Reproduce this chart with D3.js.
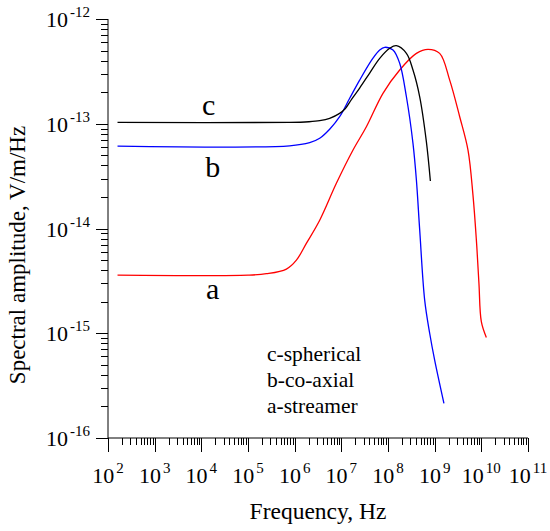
<!DOCTYPE html>
<html>
<head>
<meta charset="utf-8">
<script src="https://cdn.jsdelivr.net/npm/d3@7"></script>
<style>
  html, body { margin: 0; padding: 0; background: #fff; }
  svg { display: block; }
  text { font-family: 'Liberation Serif', 'DejaVu Serif', serif; fill: #000; }
</style>
</head>
<body>
<svg></svg>
<script>
const w = 550
const h = 531

// curve c - spherical (black)
const freqC = [160, 7.8e5, 2.0e6, 3.44e6, 5.62e6, 9.2e6, 1.18e7, 1.67e7, 2.47e7, 4.05e7, 6.64e7, 1.09e8, 1.51e8, 2.48e8, 3.43e8, 4.78e8, 6.64e8, 8.09e8]
const ampC = [1.03e-13, 1.03e-13, 1.045e-13, 1.07e-13, 1.127e-13, 1.256e-13, 1.374e-13, 1.72e-13, 2.19e-13, 3.05e-13, 4.21e-13, 5.25e-13, 5.56e-13, 4.70e-13, 3.26e-13, 1.81e-13, 6.76e-14, 2.84e-14]

// curve b - co-axial (blue)
const freqB = [160, 7.8e5, 2.10e6, 3.44e6, 5.62e6, 9.2e6, 1.51e7, 2.47e7, 4.76e7, 6.64e7, 8.49e7, 1.28e8, 1.78e8, 2.48e8, 3.43e8, 4.06e8, 4.78e8, 6.11e8, 7.82e8, 1.0e9, 1.58e9]
const ampB = [6.12e-14, 6.15e-14, 6.59e-14, 7.26e-14, 8.85e-14, 1.167e-13, 1.75e-13, 2.61e-13, 4.22e-13, 5.06e-13, 5.37e-13, 5.06e-13, 3.78e-13, 1.81e-13, 6.50e-14, 2.90e-14, 9.66e-15, 2.07e-15, 1.00e-15, 5.53e-16, 2.14e-16]

// curve a - streamer (red)
const freqA = [160, 1.0e5, 2.48e5, 6.65e5, 1.09e6, 1.78e6, 3.44e6, 7.83e6, 1.78e7, 3.44e7, 7.80e7, 1.78e8, 4.06e8, 7.19e8, 1.28e9, 2.10e9, 3.44e9, 5.18e9, 6.62e9, 7.83e9, 8.89e9, 1.00e10, 1.28e10]
const ampA = [3.59e-15, 3.59e-15, 3.70e-15, 4.10e-15, 4.99e-15, 7.21e-15, 1.20e-14, 2.70e-14, 5.61e-14, 9.35e-14, 1.95e-13, 3.26e-13, 4.70e-13, 5.14e-13, 4.70e-13, 2.61e-13, 1.167e-13, 5.61e-14, 2.08e-14, 7.75e-15, 2.99e-15, 1.29e-15, 9.12e-16]

const xExp = [2, 3, 4, 5, 6, 7, 8, 9, 10, 11]
const yExp = [-16, -15, -14, -13, -12]
const legendLines = ['c-spherical', 'b-co-axial', 'a-streamer']

const svg = d3.select('svg')
  .attr('width', w)
  .attr('height', h)
  .attr('viewBox', `0 0 ${w} ${h}`);

const margin = {top: 19, right: 22, bottom: 93, left: 108};
const innerWidth = w - margin.left - margin.right;
const innerHeight = h - margin.top - margin.bottom;

const xScale = d3.scaleLog()
  .domain([1e2, 1e11])
  .range([0, innerWidth]);

const yScale = d3.scaleLog()
  .domain([1e-16, 1e-12])
  .range([innerHeight, 0]);

const g = svg.append('g')
  .attr('transform', `translate(${margin.left}, ${margin.top})`);

// log ticks: 1..9 in each decade, major on the powers of ten
const logTicks = (lo, hi) => {
  const out = [];
  for (let e = lo; e < hi; e++)
    for (let k = 1; k <= 9; k++) out.push({v: k * Math.pow(10, e), major: k === 1});
  out.push({v: Math.pow(10, hi), major: true});
  return out;
}

// x axis
const xAxisG = g.append('g')
  .attr('transform', `translate(0, ${innerHeight})`);

xAxisG.append('line')
  .attr('x1', 0).attr('x2', innerWidth)
  .attr('stroke', '#000');

xAxisG.selectAll('.xtick').data(logTicks(2, 11))
  .enter().append('line')
    .attr('class', 'xtick')
    .attr('x1', d => Math.round(xScale(d.v)) + 0.5)
    .attr('x2', d => Math.round(xScale(d.v)) + 0.5)
    .attr('y1', 0)
    .attr('y2', d => d.major ? 14 : 7)
    .attr('stroke', '#000');

const xLab = xAxisG.selectAll('.xlab').data(xExp)
  .enter().append('text')
    .attr('class', 'xlab')
    .attr('x', d => xScale(Math.pow(10, d)))
    .attr('y', 45)
    .attr('text-anchor', 'middle')
    .attr('font-size', 22);
xLab.append('tspan').text('10');
xLab.append('tspan').attr('dx', 2).attr('dy', -10).attr('font-size', 15).text(d => d);

xAxisG.append('text')
  .attr('x', innerWidth / 2)
  .attr('y', 81)
  .attr('text-anchor', 'middle')
  .attr('font-size', 23.5)
  .text('Frequency, Hz');

// y axis
const yAxisG = g.append('g');

yAxisG.append('line')
  .attr('y1', 0).attr('y2', innerHeight)
  .attr('stroke', '#000');

yAxisG.selectAll('.ytick').data(logTicks(-16, -12))
  .enter().append('line')
    .attr('class', 'ytick')
    .attr('y1', d => Math.round(yScale(d.v)) + 0.5)
    .attr('y2', d => Math.round(yScale(d.v)) + 0.5)
    .attr('x1', 0)
    .attr('x2', d => d.major ? -12 : -7)
    .attr('stroke', '#000');

const yLab = yAxisG.selectAll('.ylab').data(yExp)
  .enter().append('text')
    .attr('class', 'ylab')
    .attr('x', -18)
    .attr('y', d => yScale(Math.pow(10, d)) + 8)
    .attr('text-anchor', 'end')
    .attr('font-size', 22);
yLab.append('tspan').text('10');
yLab.append('tspan').attr('dx', 2).attr('dy', -10).attr('font-size', 15).text(d => d);

svg.append('text')
  .attr('transform', 'translate(25, 255) rotate(-90)')
  .attr('text-anchor', 'middle')
  .attr('font-size', 23)
  .text('Spectral amplitude, V/m/Hz');

// curves
const line = d3.line()
  .x(d => xScale(d[0]))
  .y(d => yScale(d[1]))
  .curve(d3.curveCatmullRom.alpha(0.5));

const series = [
  {f: freqA, v: ampA, color: '#ff0000'},
  {f: freqB, v: ampB, color: '#0000ff'},
  {f: freqC, v: ampC, color: '#000000'}
];

g.selectAll('.curve').data(series)
  .enter().append('path')
    .attr('class', 'curve')
    .attr('fill', 'none')
    .attr('stroke', d => d.color)
    .attr('stroke-width', 1.3)
    .attr('d', d => line(d.f.map((f, i) => [f, d.v[i]])));

// curve letters
const letters = [
  {t: 'c', x: 1.44e4, y: 1.21e-13},
  {t: 'b', x: 1.75e4, y: 3.1e-14},
  {t: 'a', x: 1.75e4, y: 2.1e-15}
];
g.selectAll('.letter').data(letters)
  .enter().append('text')
    .attr('class', 'letter')
    .attr('x', d => xScale(d.x))
    .attr('y', d => yScale(d.y))
    .attr('text-anchor', 'middle')
    .attr('font-size', 30)
    .text(d => d.t);

// legend text
g.selectAll('.legend').data(legendLines)
  .enter().append('text')
    .attr('class', 'legend')
    .attr('x', 159)
    .attr('y', (d, i) => 342 + i * 26)
    .attr('font-size', 21.5)
    .text(d => d);
</script>
</body>
</html>
